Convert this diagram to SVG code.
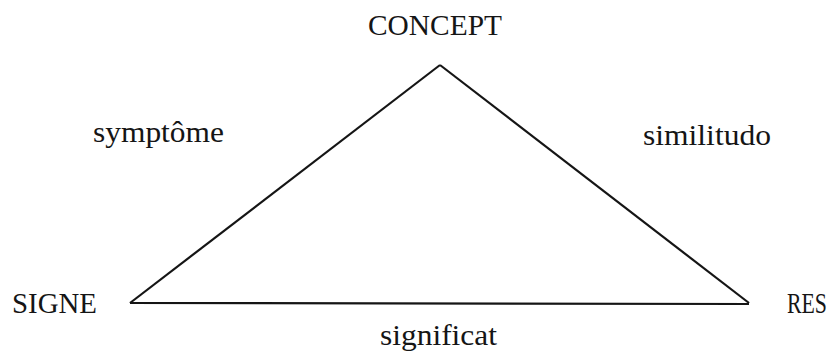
<svg xmlns="http://www.w3.org/2000/svg" width="840" height="355" viewBox="0 0 840 355">
<style>
text{font-family:"Liberation Serif","Times New Roman",serif;font-size:29px;fill:#151515}
.edge{stroke:#151515;stroke-width:2.2;fill:none;stroke-linejoin:miter}
</style>
<rect width="840" height="355" fill="#ffffff"/>
<g id="connectors">
<line class="edge" x1="440" y1="65" x2="130" y2="303"/>
<line class="edge" x1="440" y1="65" x2="749" y2="303"/>
<line class="edge" x1="130" y1="303" x2="749" y2="304"/>
</g>
<g id="concept"><text x="368" y="35" textLength="134" lengthAdjust="spacingAndGlyphs">CONCEPT</text></g>
<g id="signe"><text x="12" y="313" textLength="85" lengthAdjust="spacingAndGlyphs">SIGNE</text></g>
<g id="res"><text x="787" y="313" font-size="25" textLength="40" lengthAdjust="spacingAndGlyphs">RES</text></g>
<g id="symptome"><text x="93" y="142" textLength="131" lengthAdjust="spacingAndGlyphs">symptôme</text></g>
<g id="similitudo"><text x="643" y="145" textLength="128" lengthAdjust="spacingAndGlyphs">similitudo</text></g>
<g id="significat"><text x="380" y="345" textLength="117" lengthAdjust="spacingAndGlyphs">significat</text></g>
</svg>
